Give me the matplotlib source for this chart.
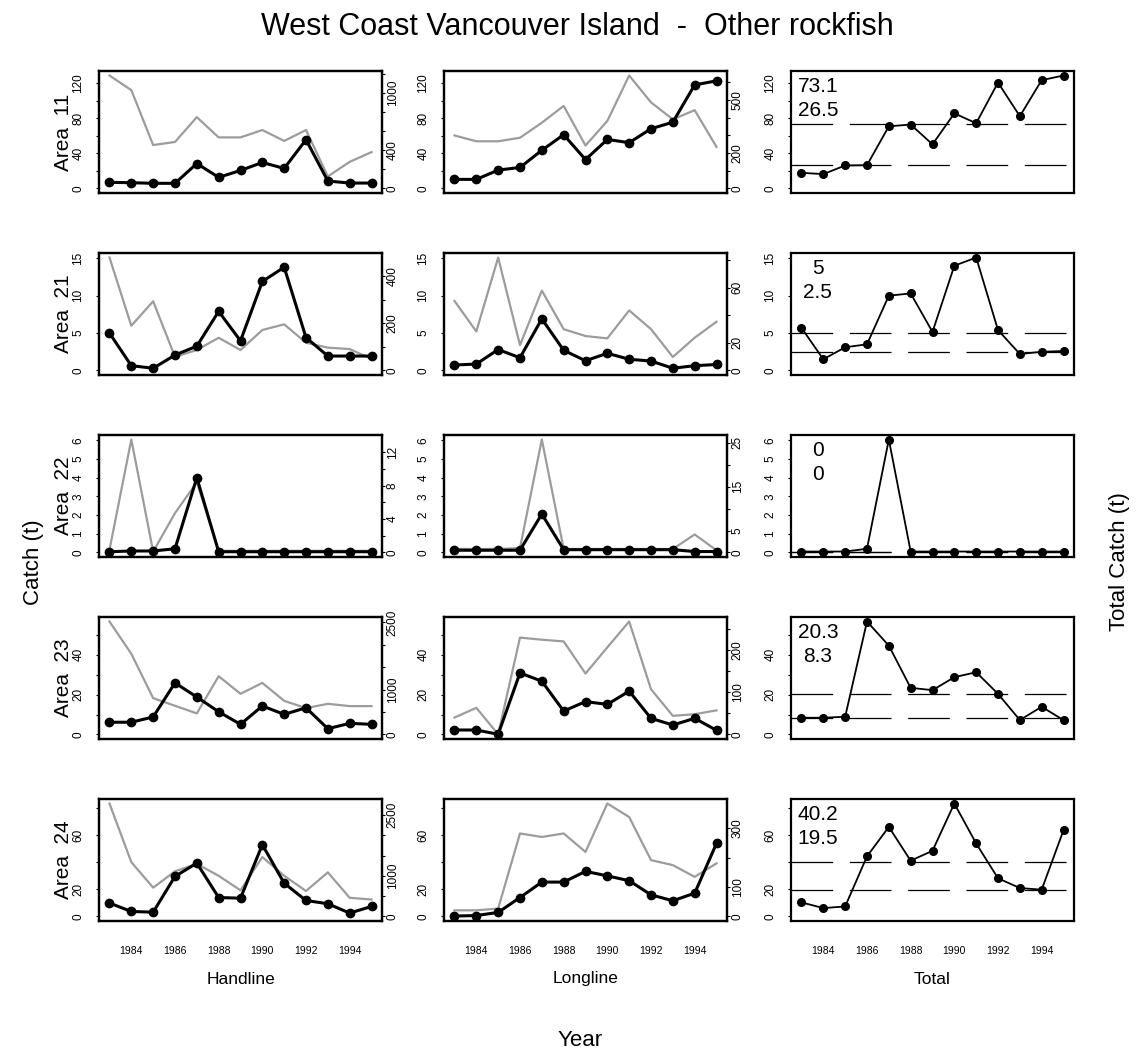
import matplotlib
matplotlib.use("Agg")
import matplotlib.pyplot as plt
from matplotlib.ticker import FixedLocator, FixedFormatter, NullLocator

plt.rcParams['font.family'] = ['Liberation Sans', 'DejaVu Sans']
plt.rcParams['lines.scale_dashes'] = False

years = list(range(1983, 1996))
xtick_years = [1984, 1986, 1988, 1990, 1992, 1994]
gear_names = ["Handline", "Longline", "Total"]

# Area 11
hl_catch_11 = [7.0, 6.6, 5.9, 5.9, 28.5, 12.7, 20.6, 29.7, 22.9, 55.7, 8.5, 6.2, 6.2]
hl_effort_11 = [1183, 1030, 455, 487, 747, 535, 535, 612, 498, 612, 126, 279, 381]
ll_catch_11 = [10.4, 10.4, 21.0, 24.0, 43.6, 61.4, 33.0, 56.0, 52.3, 68.2, 75.7, 118.3, 122.9]
ll_effort_11 = [300, 267, 267, 287, 372, 467, 243, 382, 639, 487, 391, 443, 235]
total_11 = [17.9, 16.4, 26.3, 26.6, 71.0, 73.0, 50.4, 85.8, 74.5, 121.0, 82.5, 123.7, 129.0]
ref_11 = [73.1, 26.5]

# Area 21
hl_catch_21 = [5.0, 0.64, 0.3, 2.06, 3.25, 7.9, 3.96, 11.9, 13.8, 4.4, 1.93, 1.93, 1.93]
hl_effort_21 = [480, 190, 294, 58, 87, 139, 87, 172, 196, 118, 97, 91, 49]
ll_catch_21 = [0.73, 0.86, 2.8, 1.7, 6.9, 2.7, 1.3, 2.3, 1.5, 1.26, 0.3, 0.64, 0.8]
ll_effort_21 = [50.5, 28.3, 82.0, 18.4, 58.0, 30.0, 25.0, 23.3, 43.6, 30.0, 9.8, 23.8, 35.4]
total_21 = [5.7, 1.5, 3.1, 3.5, 10.0, 10.3, 5.15, 14.0, 15.1, 5.4, 2.2, 2.5, 2.6]
ref_21 = [5, 2.5]

# Area 22
hl_catch_22 = [0.04, 0.08, 0.08, 0.2, 4.0, 0.04, 0.04, 0.04, 0.04, 0.04, 0.04, 0.04, 0.04]
hl_effort_22 = [0.3, 13.5, 0.1, 4.7, 8.4, 0.2, 0.2, 0.2, 0.2, 0.2, 0.2, 0.2, 0.2]
ll_catch_22 = [0.12, 0.12, 0.12, 0.12, 2.06, 0.15, 0.15, 0.15, 0.15, 0.15, 0.15, 0.05, 0.05]
ll_effort_22 = [0.8, 0.8, 0.8, 1.0, 25.7, 0.8, 0.8, 0.8, 0.8, 0.8, 0.8, 4.1, 0.5]
total_22 = [0.05, 0.05, 0.05, 0.2, 6.05, 0.05, 0.05, 0.05, 0.05, 0.05, 0.05, 0.05, 0.05]
ref_22 = [0, 0]

# Area 23
hl_catch_23 = [6.15, 6.15, 8.8, 25.9, 18.8, 11.4, 5.1, 14.3, 10.1, 13.4, 2.9, 5.6, 5.1]
hl_effort_23 = [2520, 1800, 810, 640, 470, 1300, 907, 1151, 750, 589, 684, 633, 633]
ll_catch_23 = [2.25, 2.25, 0.1, 30.9, 26.75, 11.75, 16.5, 15.1, 21.75, 8.1, 4.75, 8.1, 2.1]
ll_effort_23 = [40, 63, 0.5, 229, 224, 220, 144, 206, 267, 107, 44, 48, 57]
total_23 = [8.4, 8.4, 8.9, 56.7, 44.6, 23.4, 22.25, 28.75, 31.25, 20.4, 7.25, 13.9, 7.2]
ref_23 = [20.3, 8.3]

# Area 24
hl_catch_24 = [9.9, 3.7, 3.2, 29.6, 39.4, 14.0, 13.5, 53.0, 24.6, 11.8, 9.4, 2.5, 7.4]
hl_effort_24 = [2780, 1337, 710, 1111, 1295, 1002, 643, 1462, 1002, 627, 1086, 460, 418]
ll_catch_24 = [0.3, 0.7, 3.0, 14.0, 25.4, 25.4, 33.3, 30.0, 26.4, 16.0, 11.6, 17.2, 54.0]
ll_effort_24 = [21, 21, 27, 283, 271, 283, 220, 385, 339, 192, 175, 135, 181]
total_24 = [10.4, 6.2, 7.4, 44.4, 66.1, 41.2, 48.5, 83.4, 53.9, 28.2, 21.0, 19.8, 63.7]
ref_24 = [40.2, 19.5]

rows = [
    dict(area="11", hl=(hl_catch_11, hl_effort_11), ll=(ll_catch_11, ll_effort_11),
         total=total_11, ref=ref_11,
         lticks=list(range(0, 121, 20)), llabels=[0, 40, 80, 120],
         hl_rticks=list(range(0, 1201, 200)), hl_rlabels=[0, 400, 1000],
         ll_rticks=list(range(0, 601, 100)), ll_rlabels=[0, 200, 500]),
    dict(area="21", hl=(hl_catch_21, hl_effort_21), ll=(ll_catch_21, ll_effort_21),
         total=total_21, ref=ref_21,
         lticks=[0, 5, 10, 15], llabels=[0, 5, 10, 15],
         hl_rticks=list(range(0, 401, 100)), hl_rlabels=[0, 200, 400],
         ll_rticks=list(range(0, 81, 20)), ll_rlabels=[0, 20, 60]),
    dict(area="22", hl=(hl_catch_22, hl_effort_22), ll=(ll_catch_22, ll_effort_22),
         total=total_22, ref=ref_22,
         lticks=list(range(0, 7)), llabels=list(range(0, 7)),
         hl_rticks=list(range(0, 13, 2)), hl_rlabels=[0, 4, 8, 12],
         ll_rticks=list(range(0, 26, 5)), ll_rlabels=[0, 5, 15, 25]),
    dict(area="23", hl=(hl_catch_23, hl_effort_23), ll=(ll_catch_23, ll_effort_23),
         total=total_23, ref=ref_23,
         lticks=list(range(0, 51, 10)), llabels=[0, 20, 40],
         hl_rticks=list(range(0, 2501, 500)), hl_rlabels=[0, 1000, 2500],
         ll_rticks=list(range(0, 251, 50)), ll_rlabels=[0, 100, 200]),
    dict(area="24", hl=(hl_catch_24, hl_effort_24), ll=(ll_catch_24, ll_effort_24),
         total=total_24, ref=ref_24,
         lticks=list(range(0, 81, 20)), llabels=[0, 20, 60],
         hl_rticks=list(range(0, 2501, 500)), hl_rlabels=[0, 1000, 2500],
         ll_rticks=list(range(0, 301, 100)), ll_rlabels=[0, 100, 300]),
]

W, H = 1138, 1051
fig = plt.figure(figsize=(W / 100, H / 100), dpi=100)

col_left = [99, 444, 791]
col_w = 283
row_top = [71, 253, 435, 617, 799]
row_h = 122
GRAY = "#9c9c9c"
TICK_FS = 8.5


def px_axes(x, y):
    return fig.add_axes([x / W, 1 - (y + row_h) / H, col_w / W, row_h / H])


def padded(top):
    return (-0.04 * top, 1.04 * top)


def set_yticks(ax, ticks, shown, side):
    ax.yaxis.set_major_locator(FixedLocator(ticks))
    ax.yaxis.set_major_formatter(
        FixedFormatter([f"{t:g}" if t in shown else "" for t in ticks]))
    if side == "left":
        ax.tick_params(axis="y", which="major", left=True, right=False,
                       labelleft=True, labelright=False, direction="out",
                       length=2, width=0.8, pad=8.5, labelsize=TICK_FS,
                       labelrotation=90)
    else:
        ax.tick_params(axis="y", which="major", left=False, right=True,
                       labelleft=False, labelright=True, direction="out",
                       length=2, width=0.8, pad=1.5, labelsize=TICK_FS,
                       labelrotation=90)
    for tk in ax.yaxis.get_major_ticks():
        tk.label1.set_va("center")
        tk.label2.set_va("center")


def frame(ax):
    for s in ax.spines.values():
        s.set_linewidth(1.6)
        s.set_color("black")


for r, row in enumerate(rows):
    top_left = max(row["total"])
    for c in range(3):
        ax = px_axes(col_left[c], row_top[r])
        ax.set_xlim(1982.52, 1995.48)
        ax.set_ylim(*padded(top_left))
        frame(ax)
        set_yticks(ax, row["lticks"], row["llabels"], "left")
        if r == len(rows) - 1:
            ax.xaxis.set_major_locator(FixedLocator(xtick_years))
            ax.xaxis.set_major_formatter(FixedFormatter([str(y) for y in xtick_years]))
            ax.tick_params(axis="x", length=0, pad=18, labelsize=7.5)
        else:
            ax.xaxis.set_major_locator(NullLocator())

        if c < 2:
            catch, effort = row["hl"] if c == 0 else row["ll"]
            rticks = row["hl_rticks"] if c == 0 else row["ll_rticks"]
            rlabels = row["hl_rlabels"] if c == 0 else row["ll_rlabels"]
            ax2 = ax.twinx()
            ax2.set_ylim(*padded(max(effort)))
            ax2.plot(years, effort, color=GRAY, lw=1.6, solid_joinstyle="round")
            set_yticks(ax2, rticks, rlabels, "right")
            frame(ax2)
            ax.set_zorder(ax2.get_zorder() + 1)
            ax.patch.set_visible(False)
            ax.plot(years, catch, color="black", lw=2.2, marker="o", ms=6,
                    solid_joinstyle="round", clip_on=False)
        else:
            for v in row["ref"]:
                ax.axhline(v, color="black", lw=0.9, dashes=(30, 12))
            ax.plot(years, row["total"], color="black", lw=1.3, marker="o",
                    ms=5.5, clip_on=False)
            ax.text(0.095, 0.87, f"{row['ref'][0]:g}", transform=ax.transAxes,
                    ha="center", va="center", fontsize=15)
            ax.text(0.095, 0.675, f"{row['ref'][1]:g}", transform=ax.transAxes,
                    ha="center", va="center", fontsize=15)

        if c == 0:
            fig.text(64 / W, 1 - (row_top[r] + row_h / 2) / H, f"Area  {row['area']}",
                     rotation=90, ha="center", va="center", fontsize=15)

fig.text(577 / W, 1 - 27 / H, "West Coast Vancouver Island  -  Other rockfish",
         ha="center", va="center", fontsize=22)
for c, name in enumerate(gear_names):
    fig.text((col_left[c] + col_w / 2) / W, 1 - 979 / H, name,
             ha="center", va="center", fontsize=12.5)
fig.text(580 / W, 1 - 1040 / H, "Year", ha="center", va="center", fontsize=16)
fig.text(33 / W, 1 - 562 / H, "Catch (t)", rotation=90, ha="center", va="center",
         fontsize=16)
fig.text(1120 / W, 1 - 562 / H, "Total Catch (t)", rotation=90, ha="center",
         va="center", fontsize=16)

fig.savefig("out.png", dpi=100)
